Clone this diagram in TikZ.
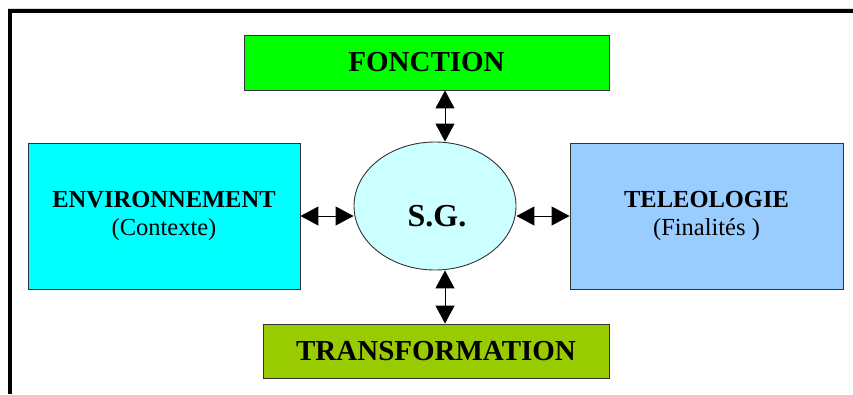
\documentclass[tikz,border=0pt]{standalone}
\usepackage{fontspec}
\setmainfont{Liberation Serif}
\usetikzlibrary{arrows.meta,shapes.geometric}
\definecolor{cFonc}{HTML}{00FF00}
\definecolor{cEnv}{HTML}{00FFFF}
\definecolor{cTel}{HTML}{99CCFF}
\definecolor{cTra}{HTML}{99CC00}
\definecolor{cSG}{HTML}{CCFFFF}
\definecolor{cEdge}{HTML}{333333}
\tikzset{
  boxnode/.style={draw=cEdge, line width=0.9pt, rectangle, inner sep=0pt, align=center, text=black},
  dbl/.style={{Triangle[length=18pt,width=19pt]}-{Triangle[length=18pt,width=19pt]}, line width=1pt, draw=black}
}
\begin{document}
\begin{tikzpicture}[x=1pt,y=-1pt]
\useasboundingbox (0,0) rectangle (853,394);
\draw[gray!30, line width=1pt] (8,8.3) -- (853,8.3);
\draw[black, line width=4pt] (10.3,394) -- (10.3,11.3) -- (853,11.3);

\node[boxnode, fill=cFonc, minimum width=365pt, minimum height=55pt,
      font=\fontsize{29}{32}\selectfont\bfseries] (fonc) at (426.5,62.5) {FONCTION};
\node[boxnode, fill=cEnv, minimum width=272pt, minimum height=146pt,
      font=\fontsize{24.5}{28}\selectfont] (env) at (164,216)
      {\textbf{ENVIRONNEMENT}\\(Contexte)};
\node[boxnode, fill=cTel, minimum width=273pt, minimum height=146pt,
      font=\fontsize{24.5}{28}\selectfont] (tel) at (706.5,216)
      {\textbf{TELEOLOGIE}\\(Finalités )};
\node[boxnode, fill=cTra, minimum width=346pt, minimum height=54pt,
      font=\fontsize{29}{32}\selectfont\bfseries] (tra) at (436,351) {TRANSFORMATION};
\node[draw=cEdge, line width=0.9pt, ellipse, fill=cSG, inner sep=0pt,
      minimum width=162pt, minimum height=128pt] (sg) at (435,206) {};
\node[font=\fontsize{32}{36}\selectfont\bfseries] (sgt) at (437,216) {S.G.};

\coordinate (ax) at (445,0);
\draw[dbl] (fonc.south -| ax) -- (sg.north -| ax);
\draw[dbl] (sg.south -| ax) -- (tra.north -| ax);
\draw[dbl] (env.east) -- (sg.west |- env.east);
\draw[dbl] (sg.east |- tel.west) -- (tel.west);
\end{tikzpicture}
\end{document}
